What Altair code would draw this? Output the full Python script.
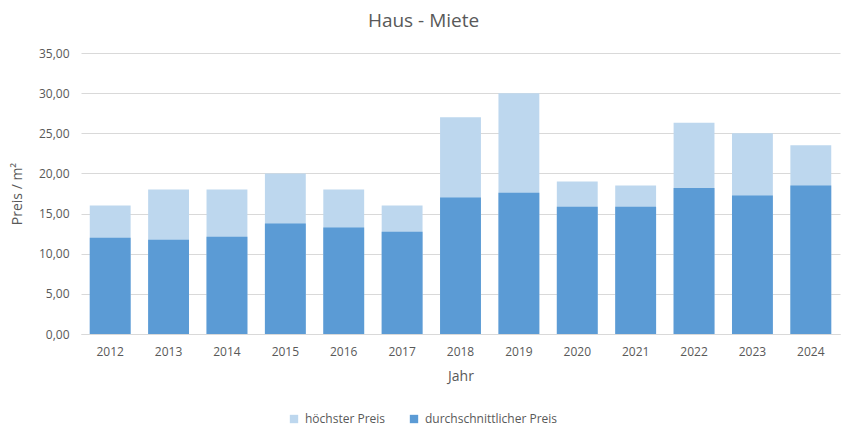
import altair as alt
import pandas as pd

years = ["2012", "2013", "2014", "2015", "2016", "2017", "2018", "2019", "2020", "2021", "2022", "2023", "2024"]
max_price = [16.0, 18.0, 18.0, 20.0, 18.0, 16.0, 27.0, 30.0, 19.0, 18.5, 26.3, 25.0, 23.5]
avg_price = [12.0, 11.75, 12.1, 13.75, 13.25, 12.75, 17.0, 17.6, 15.85, 15.85, 18.2, 17.25, 18.5]
series_names = ["höchster Preis", "durchschnittlicher Preis"]
series_colors = ["#BDD7EE", "#5B9BD5"]

rows = []
for y, v in zip(years, max_price):
    rows.append({"Jahr": y, "Preis": v, "Serie": series_names[0], "o": 0})
for y, v in zip(years, avg_price):
    rows.append({"Jahr": y, "Preis": v, "Serie": series_names[1], "o": 1})
df = pd.DataFrame(rows)

FONT = "Open Sans"
GREY = "#595959"

chart = alt.Chart(df).mark_bar().encode(
    x=alt.X("Jahr:N", sort=years,
            scale=alt.Scale(paddingInner=0.3, paddingOuter=0.15),
            axis=alt.Axis(title="Jahr", labelAngle=0, ticks=False, domain=True,
                          domainColor="#D9D9D9", labelPadding=12, titlePadding=12,
                          labelFontSize=12, titleFontSize=14, labelColor=GREY,
                          titleColor=GREY, labelFont=FONT, titleFont=FONT,
                          titleFontWeight="normal")),
    y=alt.Y("Preis:Q", stack=None,
            scale=alt.Scale(domain=[0, 35]),
            axis=alt.Axis(title="Preis / m²", values=[0, 5, 10, 15, 20, 25, 30, 35],
                          labelExpr="replace(format(datum.value, '.2f'), '.', ',')",
                          ticks=False, domain=False, gridColor="#D9D9D9",
                          labelPadding=12, titlePadding=14,
                          labelFontSize=12, titleFontSize=14, labelColor=GREY,
                          titleColor=GREY, labelFont=FONT, titleFont=FONT,
                          titleFontWeight="normal")),
    color=alt.Color("Serie:N",
                    scale=alt.Scale(domain=series_names, range=series_colors),
                    legend=alt.Legend(title=None, orient="none", direction="horizontal",
                                      legendX=207, legendY=360, symbolType="square",
                                      symbolSize=70, symbolStrokeWidth=0,
                                      labelFontSize=12, labelColor=GREY, labelFont=FONT,
                                      columnPadding=22, labelOffset=5)),
    order=alt.Order("o:Q"),
).properties(
    width=759, height=281,
    padding={"left": 81, "top": 53, "right": 14, "bottom": 104},
    autosize="none",
    title=alt.TitleParams("Haus - Miete", fontSize=19, font=FONT, color=GREY,
                          fontWeight="normal", anchor="middle", dx=-37, offset=16),
).configure_view(stroke=None)

chart.save("out.html", embed_options={"renderer": "svg", "actions": False})
